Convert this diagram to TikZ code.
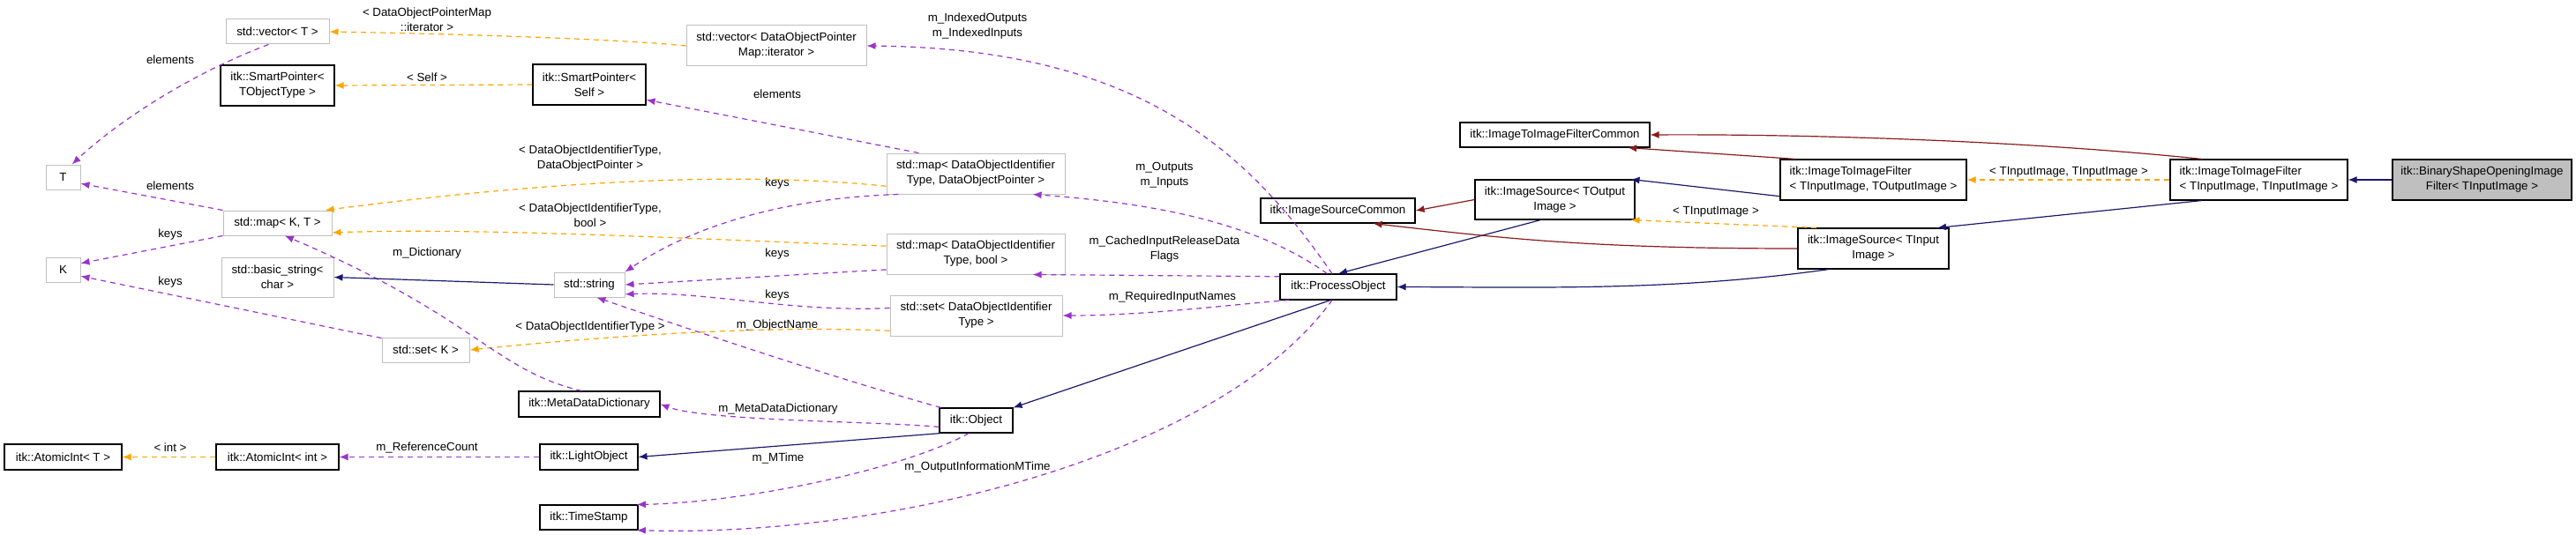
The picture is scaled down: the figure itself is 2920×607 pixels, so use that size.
\documentclass[tikz,border=0pt]{standalone}
\usepackage{fontspec}
\setmainfont{Liberation Sans}
\usetikzlibrary{arrows.meta}
\definecolor{pur}{HTML}{9A32CD}
\definecolor{org}{HTML}{FFA500}
\definecolor{nav}{HTML}{191970}
\definecolor{drd}{HTML}{8B1A1A}
\definecolor{gbd}{HTML}{BFBFBF}
\begin{document}
\begin{tikzpicture}[x=1pt,y=-1pt,
  every node/.style={font=\fontsize{13.3}{17}\selectfont, inner sep=0pt, align=center},
  std/.style={draw=gbd, line width=1pt},
  itk/.style={draw=black, line width=1.1pt},
  cur/.style={draw=black, line width=1.1pt, fill=gbd},
  lbl/.style={},
  e/.style={line width=1.2pt, -{Latex[length=10pt,width=8pt]}},
  pe/.style={e, pur, dash pattern=on 6pt off 5pt},
  oe/.style={e, org, dash pattern=on 6pt off 5pt},
  ne/.style={e, nav},
  re/.style={e, drd}]
\useasboundingbox (0,0) rectangle (2920,607);
% nodes
\node[std, minimum width=117pt, minimum height=28pt] (vecT) at (314.5,36) {std::vector< T >};
\node[std, minimum width=204pt, minimum height=46pt] (vecIt) at (880,52) {std::vector< DataObjectPointer\\Map::iterator >};
\node[itk, minimum width=129pt, minimum height=46pt] (spT) at (314.5,97) {itk::SmartPointer<\\TObjectType >};
\node[itk, minimum width=128pt, minimum height=46pt] (spS) at (668,96) {itk::SmartPointer<\\Self >};
\node[std, minimum width=39pt, minimum height=28pt] (T) at (71.5,201) {T};
\node[std, minimum width=39pt, minimum height=28pt] (K) at (71.5,306) {K};
\node[std, minimum width=123pt, minimum height=28pt] (mapKT) at (314.5,253) {std::map< K, T >};
\node[std, minimum width=127pt, minimum height=45pt] (bstr) at (314.5,314.5) {std::basic\_string<\\char >};
\node[std, minimum width=80pt, minimum height=28pt] (str) at (668,323) {std::string};
\node[std, minimum width=99pt, minimum height=28pt] (setK) at (482.5,397) {std::set< K >};
\node[itk, minimum width=160pt, minimum height=29pt] (mdd) at (668,458.5) {itk::MetaDataDictionary};
\node[itk, minimum width=133pt, minimum height=29pt] (aiT) at (71.5,518.5) {itk::AtomicInt< T >};
\node[itk, minimum width=139pt, minimum height=29pt] (aiI) at (314.5,518.5) {itk::AtomicInt< int >};
\node[itk, minimum width=111pt, minimum height=29pt] (lo) at (667.5,518.5) {itk::LightObject};
\node[itk, minimum width=111pt, minimum height=28pt] (ts) at (667.5,587) {itk::TimeStamp};
\node[std, minimum width=202pt, minimum height=46pt] (mapDOP) at (1106,197) {std::map< DataObjectIdentifier\\Type, DataObjectPointer >};
\node[std, minimum width=202pt, minimum height=46pt] (mapB) at (1106,288) {std::map< DataObjectIdentifier\\Type, bool >};
\node[std, minimum width=195pt, minimum height=46pt] (setD) at (1106.5,358) {std::set< DataObjectIdentifier\\Type >};
\node[itk, minimum width=83pt, minimum height=28pt] (obj) at (1106.5,477) {itk::Object};
\node[itk, minimum width=132pt, minimum height=29pt] (po) at (1517,325.5) {itk::ProcessObject};
\node[itk, minimum width=175pt, minimum height=28pt] (isc) at (1516.5,239) {itk::ImageSourceCommon};
\node[itk, minimum width=215pt, minimum height=28pt] (i2ic) at (1762.5,153) {itk::ImageToImageFilterCommon};
\node[itk, minimum width=181pt, minimum height=45pt] (isO) at (1762.5,226.5) {itk::ImageSource< TOutput\\Image >};
\node[itk, minimum width=211pt, minimum height=46pt, align=left] (i2iTO) at (2123.5,204) {itk::ImageToImageFilter\\< TInputImage, TOutputImage >};
\node[itk, minimum width=171pt, minimum height=46pt] (isI) at (2123.5,282) {itk::ImageSource< TInput\\Image >};
\node[itk, minimum width=201pt, minimum height=46pt, align=left] (i2iTI) at (2560.5,204) {itk::ImageToImageFilter\\< TInputImage, TInputImage >};
\node[cur, minimum width=203pt, minimum height=46pt] (cur) at (2813.5,204) {itk::BinaryShapeOpeningImage\\Filter< TInputImage >};
% labels
\node[lbl] (l1) at (484,22) {< DataObjectPointerMap\\::iterator >};
\node[lbl] (l2) at (193,68) {elements};
\node[lbl] (l3) at (484,88) {< Self >};
\node[lbl] (l4) at (881,107) {elements};
\node[lbl] (l5) at (669,180) {< DataObjectIdentifierType,\\DataObjectPointer >};
\node[lbl] (l6) at (193,211) {elements};
\node[lbl] (l7) at (881,208) {keys};
\node[lbl] (l8) at (669,244) {< DataObjectIdentifierType,\\bool >};
\node[lbl] (l9) at (193,266) {keys};
\node[lbl] (l10) at (484,287) {m\_Dictionary};
\node[lbl] (l11) at (881,288) {keys};
\node[lbl] (l12) at (193,320) {keys};
\node[lbl] (l13) at (881,335) {keys};
\node[lbl] (l14) at (881,369) {m\_ObjectName};
\node[lbl] (l15) at (669,371) {< DataObjectIdentifierType >};
\node[lbl] (l16) at (882,464) {m\_MetaDataDictionary};
\node[lbl] (l17) at (193,508) {< int >};
\node[lbl] (l18) at (484,508) {m\_ReferenceCount};
\node[lbl] (l19) at (882,520) {m\_MTime};
\node[lbl] (l20) at (1108,530) {m\_OutputInformationMTime};
\node[lbl] (l21) at (1108,30) {m\_IndexedOutputs\\m\_IndexedInputs};
\node[lbl] (l22) at (1320,199) {m\_Outputs\\m\_Inputs};
\node[lbl] (l23) at (1320,283) {m\_CachedInputReleaseData\\Flags};
\node[lbl] (l24) at (1329,337) {m\_RequiredInputNames};
\node[lbl] (l25) at (1945,240) {< TInputImage >};
\node[lbl] (l26) at (2345,195) {< TInputImage, TInputImage >};
% edges
\draw[oe] (vecIt.west) .. controls (700,44) and (500,38) .. (vecT.east);
\draw[pe] (vecT.235) .. controls (200,90) and (120,150) .. (T.55);
\draw[oe] (spS.west) -- (spT.east);
\draw[pe] (mapDOP.160) -- (spS.-15);
\draw[pe] (mapKT.north west) -- (T.-20);
\draw[pe] (mapKT.south west) -- (K.20);
\draw[oe] (mapDOP.188) .. controls (800,190) and (550,215) .. (mapKT.15);
\draw[oe] (mapB.175) .. controls (800,272) and (550,258) .. (mapKT.-10);
\draw[pe] (setK.165) -- (K.-20);
\draw[oe] (setD.190) .. controls (850,368) and (650,385) .. (setK.east);
\draw[pe] (mdd.120) .. controls (560,420) and (540,360) .. (mapKT.-60);
\draw[ne] (str.west) -- (bstr.east);
\draw[pe] (mapDOP.195) .. controls (880,225) and (780,260) .. (str.north east);
\draw[pe] (mapB.190) -- (str.east);
\draw[pe] (setD.175) .. controls (900,355) and (800,330) .. (str.-15);
\draw[pe] (obj.160) .. controls (950,430) and (800,380) .. (str.-60);
\draw[pe] (obj.190) .. controls (1000,478) and (800,478) .. (mdd.east);
\draw[ne] (obj.200) -- (lo.east);
\draw[pe] (obj.240) .. controls (1030,530) and (850,570) .. (ts.15);
\draw[pe] (po.-115) .. controls (1380,520) and (1000,610) .. (ts.-15);
\draw[oe] (aiI.west) -- (aiT.east);
\draw[pe] (lo.west) -- (aiI.east);
\draw[pe] (po.115) .. controls (1420,180) and (1300,55) .. (vecIt.east);
\draw[pe] (po.130) .. controls (1420,250) and (1300,230) .. (mapDOP.-20);
\draw[pe] (po.170) -- (mapB.-20);
\draw[pe] (po.195) .. controls (1400,345) and (1300,358) .. (setD.east);
\draw[ne] (po.-120) -- (obj.north east);
\draw[ne] (isO.-125) -- (po.north);
\draw[re] (isO.west) -- (isc.east);
\draw[re] (isI.180) .. controls (1800,282) and (1700,270) .. (isc.-20);
\draw[ne] (isI.-155) .. controls (1900,330) and (1750,326) .. (po.east);
\draw[oe] (isI.160) -- (isO.-15);
\draw[ne] (i2iTO.-170) -- (isO.15);
\draw[re] (i2iTO.165) -- (i2ic.-10);
\draw[oe] (i2iTI.west) -- (i2iTO.east);
\draw[re] (i2iTI.160) .. controls (2300,160) and (2050,152) .. (i2ic.east);
\draw[ne] (i2iTI.-160) -- (isI.18);
\draw[ne] (cur.west) -- (i2iTI.east);
\end{tikzpicture}
\end{document}
